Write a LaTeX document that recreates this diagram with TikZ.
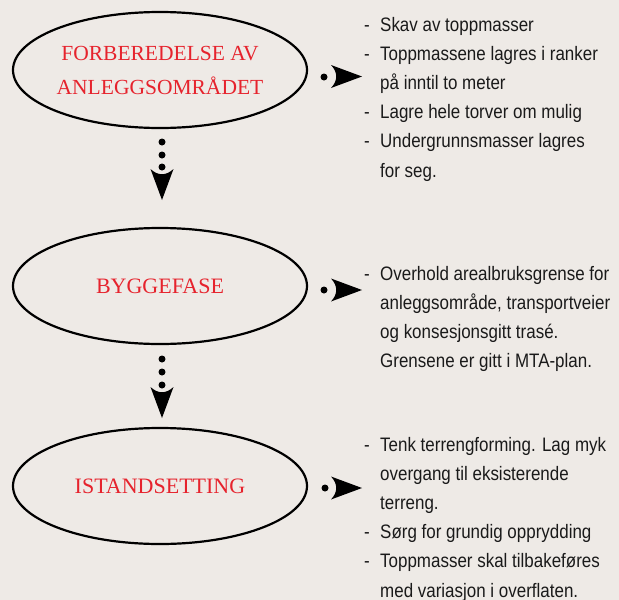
\documentclass[tikz,border=0pt]{standalone}
\usepackage{fontspec}
\setmainfont{Liberation Serif}
\newfontfamily\narrowsans[FakeStretch=0.87]{Liberation Sans}
\usetikzlibrary{shapes.geometric}
\definecolor{bg}{HTML}{EEEAE6}
\definecolor{capred}{HTML}{E6232D}
\definecolor{ink}{HTML}{1A1A1A}
\newcommand{\hy}{\makebox[16pt][l]{-}}
\begin{document}
\begin{tikzpicture}[x=1pt,y=-1pt,
  ell/.style={ellipse, draw, line width=2.2pt, minimum width=294pt, minimum height=116pt, inner sep=0pt},
  etext/.style={text=capred, font=\fontsize{22}{34}\selectfont, align=center, inner sep=0pt},
  note/.style={anchor=base west, inner sep=0pt, text=ink, font=\narrowsans\fontsize{19.5}{29.2}\selectfont},
  dotm/.style={circle, fill=black, inner sep=0pt, minimum size=7pt},
  rhead/.pic={\fill[black] (0,0) -- (-31,-11.5) .. controls (-24,-4) and (-24,4) .. (-31,11.5) -- cycle;},
  dhead/.pic={\fill[black] (0,0) -- (-11.5,-31) .. controls (-4,-24) and (4,-24) .. (11.5,-31) -- cycle;}
]
\fill[bg] (0,0) rectangle (619,600);
\useasboundingbox (0,0) rectangle (619,600);

% ellipses
\node[ell] (e1) at (160,70) {};
\node[ell] (e2) at (160,286) {};
\node[ell] (e3) at (160,486) {};
\node[etext, font=\fontsize{21.5}{34}\selectfont] (t1) at (e1.center) {FORBEREDELSE AV\\ANLEGGSOMRÅDET};
\node[etext] (t2) at (e2.center) {BYGGEFASE};
\node[etext] (t3) at (e3.center) {ISTANDSETTING};

% down arrows
\node[dotm] (d1a) at (162,142) {};
\node[dotm] (d1b) at (162,155) {};
\node[dotm] (d1c) at (162,167) {};
\coordinate (d1tip) at (162,200);
\pic at (d1tip) {dhead};
\node[dotm] (d2a) at (162,359) {};
\node[dotm] (d2b) at (162,372) {};
\node[dotm] (d2c) at (162,385) {};
\coordinate (d2tip) at (162,418);
\pic at (d2tip) {dhead};

% right arrows
\node[dotm] (r1dot) at (324,77) {};
\coordinate (r1tip) at (362,76.5);
\pic at (r1tip) {rhead};
\node[dotm] (r2dot) at (324,290) {};
\coordinate (r2tip) at (362,290);
\pic at (r2tip) {rhead};
\node[dotm] (r3dot) at (325,488) {};
\coordinate (r3tip) at (362,488);
\pic at (r3tip) {rhead};

% notes
\node[note] (n1) at (364,31) {\begin{tabular}[t]{@{}l@{}}
\hy Skav av toppmasser\\
\hy Toppmassene lagres i ranker\\
\hspace{16pt}på inntil to meter\\
\hy Lagre hele torver om mulig\\
\hy Undergrunnsmasser lagres\\
\hspace{16pt}for seg.
\end{tabular}};
\node[note] (n2) at (364,280) {\begin{tabular}[t]{@{}l@{}}
\hy Overhold arealbruksgrense for\\
\hspace{16pt}anleggsområde, transportveier\\
\hspace{16pt}og konsesjonsgitt trasé.\\
\hspace{16pt}Grensene er gitt i MTA-plan.
\end{tabular}};
\node[note] (n3) at (364,451) {\begin{tabular}[t]{@{}l@{}}
\hy Tenk terrengforming. Lag myk\\
\hspace{16pt}overgang til eksisterende\\
\hspace{16pt}terreng.\\
\hy Sørg for grundig opprydding\\
\hy Toppmasser skal tilbakeføres\\
\hspace{16pt}med variasjon i overflaten.
\end{tabular}};
\end{tikzpicture}
\end{document}
